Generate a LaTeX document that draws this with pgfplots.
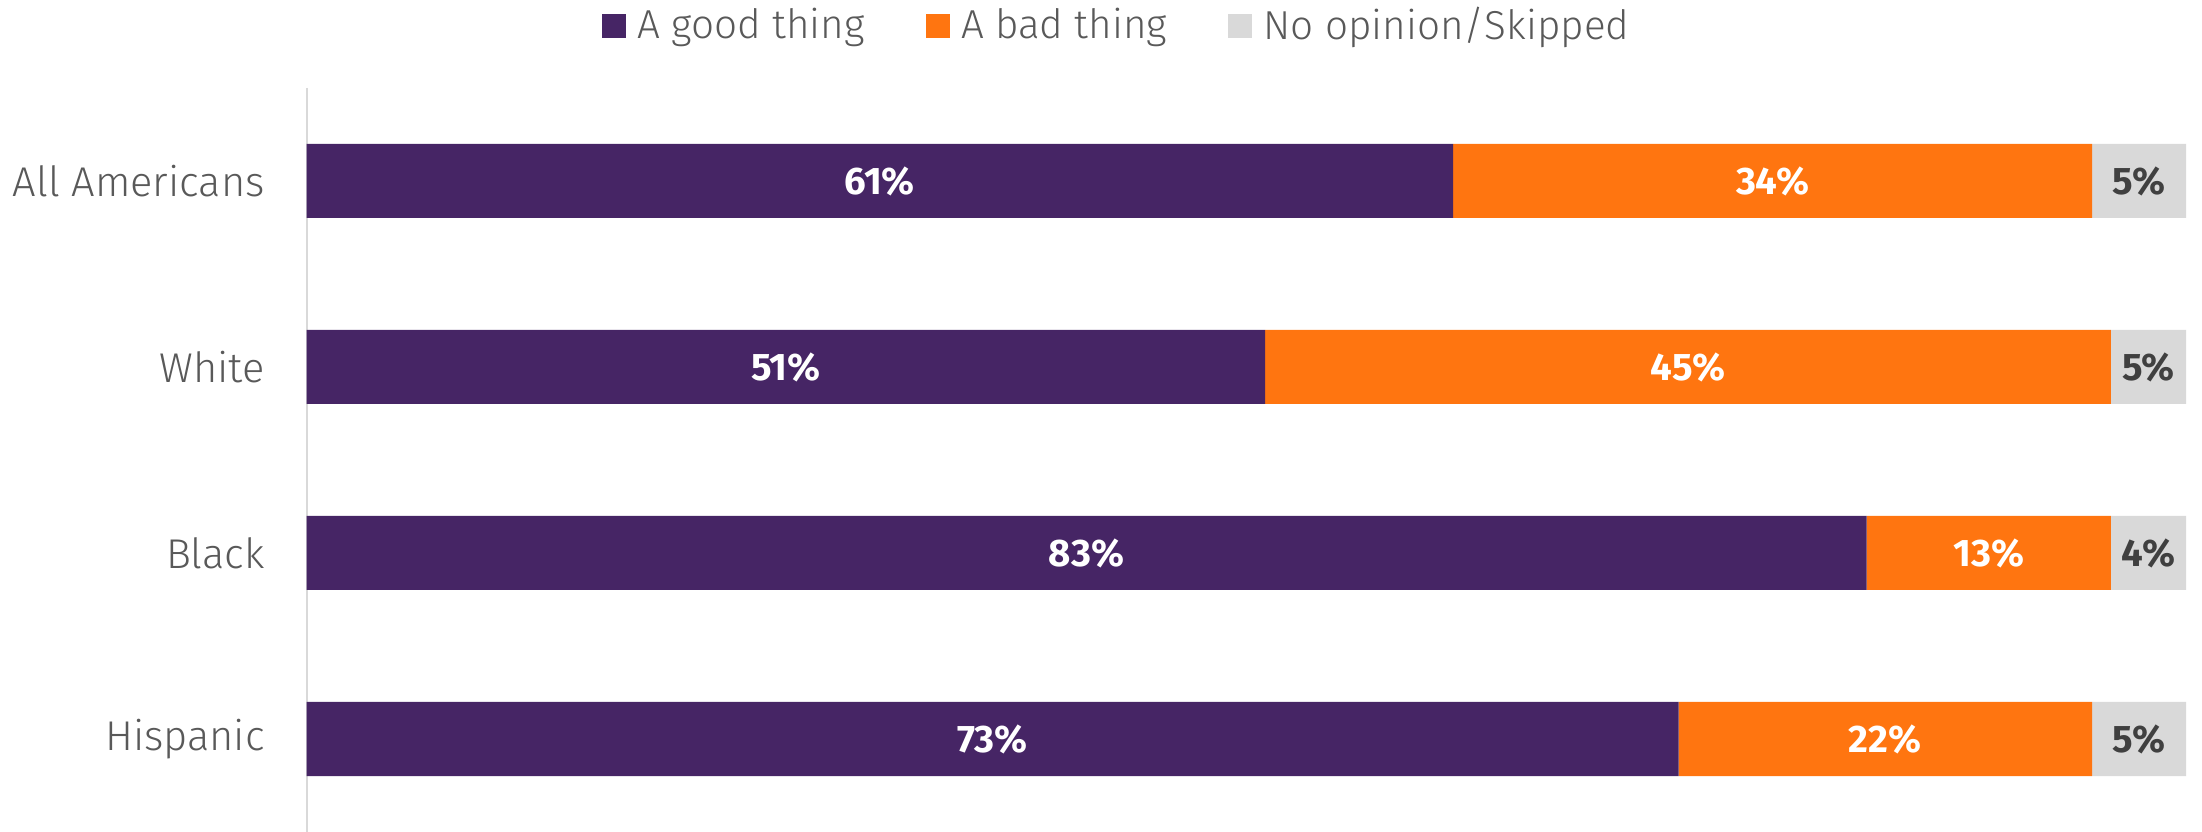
\documentclass[border=0pt]{standalone}
\usepackage{fontspec}
\setmainfont{Fira Sans}[UprightFont=* Light, BoldFont=* Bold]
\usepackage{pgfplots}
\usepackage{pgfplotstable}
\pgfplotsset{compat=1.18}
\definecolor{cgood}{RGB}{70,37,101}
\definecolor{cbad}{RGB}{255,117,16}
\definecolor{cnone}{RGB}{217,217,217}
\definecolor{ctext}{RGB}{89,89,89}
\definecolor{cdark}{RGB}{64,64,64}
\pgfplotstableread{
cat good bad none lgood lbad lnone
0   61   34  5    61    34   5
1   51   45  4    51    45   5
2   83   13  4    83    13   4
3   73   22  5    73    22   5
}\datatable
\pgfplotsset{
  common/.style={
    at={(76.625pt,0pt)}, anchor=south west,
    scale only axis, width=469.875pt, height=186pt,
    xmin=0, xmax=100, ymin=-0.5, ymax=3.5, y dir=reverse,
    enlargelimits=false,
  },
}
\begin{document}
\begin{tikzpicture}
\path[use as bounding box] (0,0) rectangle (550.5pt,208pt);
\begin{axis}[
  common,
  xbar stacked, bar width=18.5pt,
  axis x line=none, axis y line=left,
  axis line style={-, draw=cnone, line width=0.5pt},
  xtick=\empty,
  ytick={0,1,2,3},
  yticklabels={All Americans,White,Black,Hispanic},
  major tick length=0pt,
  ytick style={draw=none},
  yticklabel style={font=\fontsize{10.4}{12}\selectfont, text=ctext, inner sep=0pt, xshift=-10.25pt},
  legend columns=3,
  legend style={draw=none, fill=none, at={(0.1567,1.083)}, anchor=west, inner sep=0pt,
    font=\fontsize{10.1}{12}\selectfont, text=ctext,
    nodes={inner xsep=2.9pt},
    /tikz/every even column/.append style={column sep=12.35pt}},
  legend image code/.code={\path[#1, draw=none] (0pt,-3pt) rectangle (6pt,3pt);},
]
\addplot[fill=cgood, draw=none] table[x=good, y=cat] {\datatable};
\addplot[fill=cbad, draw=none] table[x=bad, y=cat] {\datatable};
\addplot[fill=cnone, draw=none] table[x=none, y=cat] {\datatable};
\legend{A good thing, A bad thing, No opinion/Skipped}
\end{axis}
\begin{axis}[
  common, hide axis,
  point meta=explicit,
  /pgf/number format/assume math mode=true,
  nodes near coords={\pgfmathprintnumber{\pgfplotspointmeta}\%},
  every node near coord/.append style={anchor=center, font=\fontsize{9.6}{11}\selectfont\bfseries},
]
\addplot[only marks, mark=none, every node near coord/.append style={text=white}]
  table[x expr=\thisrow{good}/2, y=cat, meta=lgood] {\datatable};
\addplot[only marks, mark=none, every node near coord/.append style={text=white}]
  table[x expr=\thisrow{good}+\thisrow{bad}/2, y=cat, meta=lbad] {\datatable};
\addplot[only marks, mark=none, every node near coord/.append style={text=cdark}]
  table[x expr=\thisrow{good}+\thisrow{bad}+\thisrow{none}/2, y=cat, meta=lnone] {\datatable};
\end{axis}
\end{tikzpicture}
\end{document}
